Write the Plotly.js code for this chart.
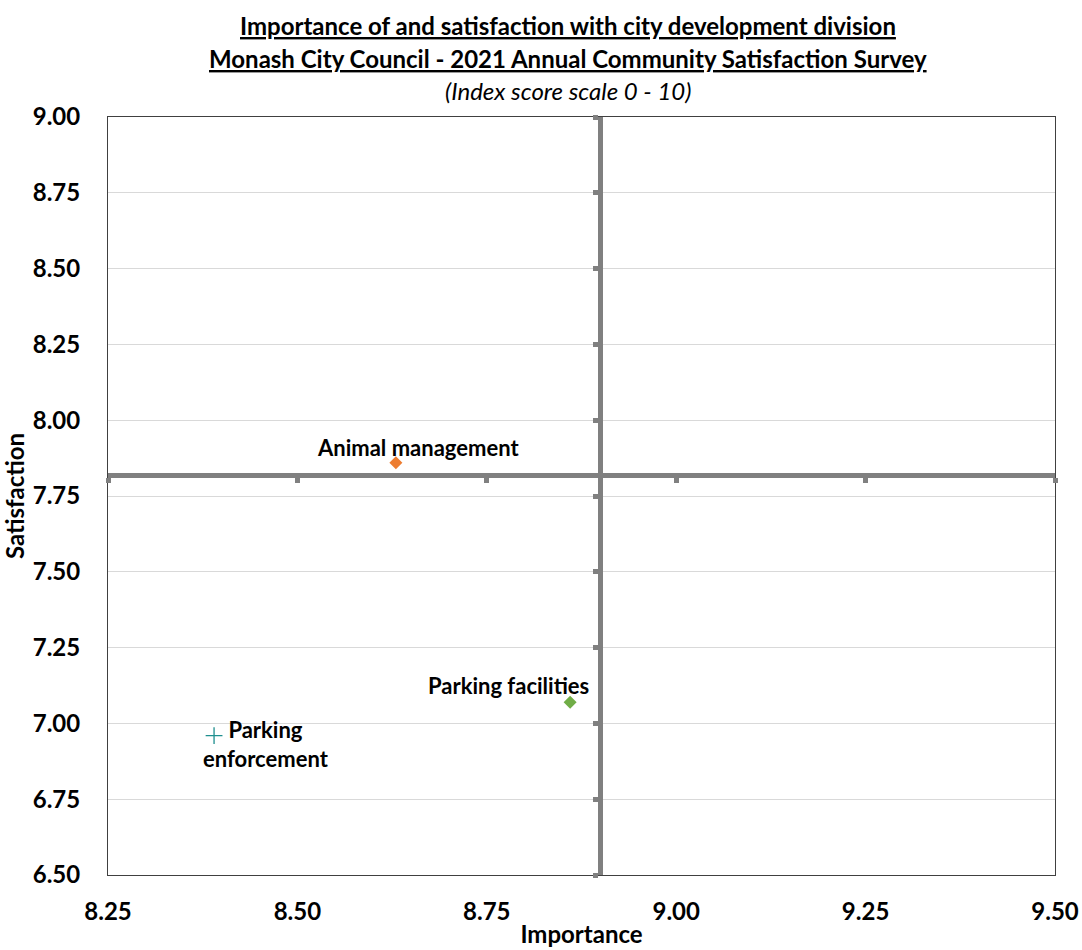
<!DOCTYPE html>
<html>
<head>
<meta charset="utf-8">
<script src="https://cdn.plot.ly/plotly-3.0.1.min.js"></script>
<style>html,body{margin:0;padding:0;background:#fff;}#chart{width:1082px;height:950px;}</style>
</head>
<body>
<div id="chart"></div>
<script>
// ---- data ----
const labels = ["Animal management", "Parking facilities", "Parking\nenforcement"];
const importance = [8.63, 8.86, 8.39];
const satisfaction = [7.86, 7.07, 6.96];
const markerSymbols = ["diamond", "diamond", "cross-thin"];
const markerColors = ["#ED7D31", "#70AD47", "#1F8F8F"];
const crossImportance = 8.90;   // where the vertical axis crosses
const crossSatisfaction = 7.82; // where the horizontal axis crosses
const xRange = [8.25, 9.50];
const yRange = [6.50, 9.00];
const tickStep = 0.25;
const titleLines = [
  "<b><u>Importance of and satisfaction with city development division</u></b>",
  "<b><u>Monash City Council - 2021 Annual Community Satisfaction Survey</u></b>",
  "<i>(Index score scale 0 - 10)</i>"
];
const xTitle = "Importance";
const yTitle = "Satisfaction";

// label offsets (style)
const labelShift = [[22, 15], [-62, 17], [52, -8]];

const FONT = "Lato, 'Open Sans', sans-serif";

const traces = labels.map((lab, i) => ({
  type: "scatter",
  mode: "markers",
  x: [importance[i]],
  y: [satisfaction[i]],
  name: lab,
  xaxis: "x", yaxis: "y",
  marker: {
    symbol: markerSymbols[i],
    color: markerColors[i],
    size: markerSymbols[i] === "cross-thin" ? 12 : 10,
    line: markerSymbols[i] === "cross-thin" ? {color: markerColors[i], width: 1.3} : {width: 0}
  },
  hoverinfo: "skip",
  showlegend: false
}));
// empty trace to host the crossing axes
traces.push({type: "scatter", x: [], y: [], xaxis: "x2", yaxis: "y2", showlegend: false, hoverinfo: "skip"});

const annotations = labels.map((lab, i) => ({
  x: importance[i], y: satisfaction[i], xref: "x", yref: "y",
  text: "<b>" + lab.replace("\n", "<br>") + "</b>",
  showarrow: false, align: "center",
  xshift: labelShift[i][0], yshift: labelShift[i][1],
  font: {family: FONT, size: 22, color: "#000"}
}));
const titleY = [1.1201, 1.0778, 1.0356];
titleLines.forEach((t, i) => annotations.push({
  xref: "paper", yref: "paper", x: 0.486, y: titleY[i],
  xanchor: "center", yanchor: "middle", showarrow: false,
  text: t, font: {family: FONT, size: 24, color: "#000"}
}));

const crossX = (crossImportance - xRange[0]) / (xRange[1] - xRange[0]);
const crossY = (crossSatisfaction - yRange[0]) / (yRange[1] - yRange[0]);

const layout = {
  width: 1082, height: 950,
  margin: {l: 108, r: 27, t: 117, b: 75},
  paper_bgcolor: "#fff", plot_bgcolor: "#fff",
  font: {family: FONT, color: "#000"},
  showlegend: false,
  xaxis: {
    range: xRange, dtick: tickStep, tick0: xRange[0], tickformat: ".2f",
    showgrid: false, zeroline: false,
    showline: true, mirror: true, linecolor: "#404040", linewidth: 1,
    ticks: "", ticklabelstandoff: 15,
    tickfont: {family: FONT, size: 24, color: "#000", weight: "bold"},
    title: {text: "<b>" + xTitle + "</b>", standoff: 2, font: {family: FONT, size: 24, color: "#000"}}
  },
  yaxis: {
    range: yRange, dtick: tickStep, tick0: yRange[0], tickformat: ".2f",
    showgrid: true, gridcolor: "#D9D9D9", gridwidth: 1, zeroline: false,
    showline: true, mirror: true, linecolor: "#404040", linewidth: 1,
    ticks: "", ticklabelstandoff: 22,
    tickfont: {family: FONT, size: 24, color: "#000", weight: "bold"},
    title: {text: "<b>" + yTitle + "</b>", standoff: 4, font: {family: FONT, size: 24, color: "#000"}}
  },
  xaxis2: {
    overlaying: "x", anchor: "free", position: crossY, side: "bottom",
    range: xRange, dtick: tickStep, tick0: xRange[0],
    showgrid: false, zeroline: false, showticklabels: false,
    showline: true, linecolor: "#808080", linewidth: 5,
    ticks: "outside", ticklen: 5, tickwidth: 5, tickcolor: "#808080"
  },
  yaxis2: {
    overlaying: "y", anchor: "free", position: crossX, side: "left",
    range: yRange, dtick: tickStep, tick0: yRange[0],
    showgrid: false, zeroline: false, showticklabels: false,
    showline: true, linecolor: "#808080", linewidth: 5,
    ticks: "outside", ticklen: 5, tickwidth: 5, tickcolor: "#808080"
  },
  annotations: annotations
};

Plotly.newPlot("chart", traces, layout, {staticPlot: true, displayModeBar: false});
</script>
</body>
</html>
